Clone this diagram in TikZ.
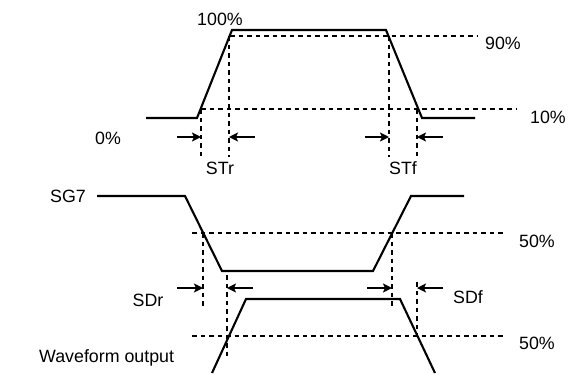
\documentclass[tikz,border=0pt]{standalone}
\usepackage{fontspec}
\setmainfont{Liberation Sans}
\usetikzlibrary{arrows.meta}
\begin{document}
\begin{tikzpicture}[x=1pt,y=-1pt,
  wave/.style={line width=2.1pt,line join=miter},
  guide/.style={line width=1.1pt,dash pattern=on 4.5pt off 4pt},
  marker/.style={line width=1.6pt,-{Stealth[length=9pt,width=9pt,inset=2pt]}},
  lbl/.style={inner sep=0pt,font=\fontsize{17.8}{21}\selectfont}]
\useasboundingbox (0,0) rectangle (581,373);
% ---------- top waveform ----------
\draw[wave] (146,118) -- (197,118) -- (232,30) -- (386,30) -- (422,118) -- (475,118);
\draw[guide] (230,36) -- (477,36);
\draw[guide] (201,109) -- (517,109);
\draw[guide] (201,109) -- (201,157);
\draw[guide] (229,36) -- (229,157);
\draw[guide] (389,36) -- (389,157);
\draw[guide] (417,109) -- (417,157);
\coordinate (a1) at (177,137); \coordinate (a1e) at (201,137);
\coordinate (a2) at (255,137); \coordinate (a2e) at (229,137);
\coordinate (a3) at (365,137); \coordinate (a3e) at (389,137);
\coordinate (a4) at (443,137); \coordinate (a4e) at (417,137);
\draw[marker] (a1) -- (a1e);
\draw[marker] (a2) -- (a2e);
\draw[marker] (a3) -- (a3e);
\draw[marker] (a4) -- (a4e);
\node[lbl] (p100) at (220,19) {100\%};
\node[lbl] (p90) at (503,43) {90\%};
\node[lbl] (p10) at (548,117) {10\%};
\node[lbl] (p0) at (108,138) {0\%};
\node[lbl] (str) at (220,168) {STr};
\node[lbl] (stf) at (403,168) {STf};
% ---------- SG7 ----------
\draw[wave] (97,196) -- (185,196) -- (222,271) -- (373,271) -- (411,196) -- (464,196);
\draw[guide] (192,233) -- (505,233);
\draw[guide] (203,233) -- (203,308);
\draw[guide] (392,233) -- (392,308);
\node[lbl] (sg7) at (68,196) {SG7};
\node[lbl] (p50a) at (537,241) {50\%};
% ---------- output ----------
\draw[wave] (212,373) -- (246,299) -- (400,299) -- (435,373);
\draw[guide] (192,336) -- (505,336);
\draw[guide] (227,275) -- (227,357);
\draw[guide] (417,282) -- (417,336);
\coordinate (b1) at (177,288); \coordinate (b1e) at (203,288);
\coordinate (b2) at (253,288); \coordinate (b2e) at (227,288);
\coordinate (b3) at (367,288); \coordinate (b3e) at (392,288);
\coordinate (b4) at (443,288); \coordinate (b4e) at (417,288);
\draw[marker] (b1) -- (b1e);
\draw[marker] (b2) -- (b2e);
\draw[marker] (b3) -- (b3e);
\draw[marker] (b4) -- (b4e);
\node[lbl] (sdr) at (148,300) {SDr};
\node[lbl] (sdf) at (468,297) {SDf};
\node[lbl] (p50b) at (537,343) {50\%};
\node[lbl,anchor=west] (wo) at (39,358) {Waveform output};
\end{tikzpicture}
\end{document}
